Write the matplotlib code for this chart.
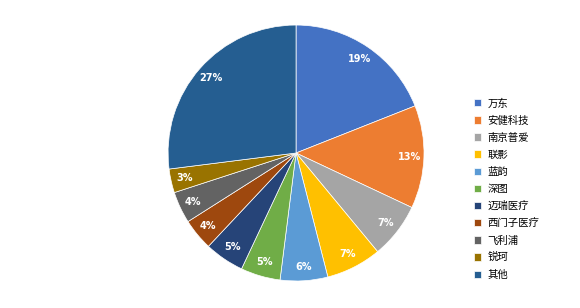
import matplotlib.pyplot as plt

plt.rcParams['font.family'] = ['Noto Sans CJK SC', 'DejaVu Sans']

names = ["万东", "安健科技", "南京普爱", "联影", "蓝韵", "深图", "迈瑞医疗", "西门子医疗", "飞利浦", "锐珂", "其他"]
shares = [19, 13, 7, 7, 6, 5, 5, 4, 4, 3, 27]
colors = ["#4472C4", "#ED7D31", "#A5A5A5", "#FFC000", "#5B9BD5", "#70AD47",
          "#264478", "#9E480E", "#636363", "#997300", "#255E91"]

fig = plt.figure(figsize=(5.8, 3.08), dpi=100)
ax = fig.add_axes([0.2897, 0.0877, 0.4414, 0.831])

wedges, texts, autotexts = ax.pie(shares, colors=colors, startangle=90, counterclock=False,
                                  autopct='%d%%', pctdistance=0.89,
                                  wedgeprops=dict(edgecolor='white', linewidth=0.5))
for t in autotexts:
    t.set_color('white')
    t.set_fontsize(7)
    t.set_fontweight('bold')
    t.set_family(['DejaVu Sans'])
ax.set_xlim(-1, 1)
ax.set_ylim(-1, 1)
ax.set_aspect('equal')

fig.legend(wedges, names, loc='upper left', bbox_to_anchor=(0.81, 0.695),
           frameon=False, fontsize=7.5, handlelength=0.7, handleheight=0.7,
           handletextpad=0.6, labelspacing=0.68, borderaxespad=0)

fig.savefig('out.png', dpi=100)
